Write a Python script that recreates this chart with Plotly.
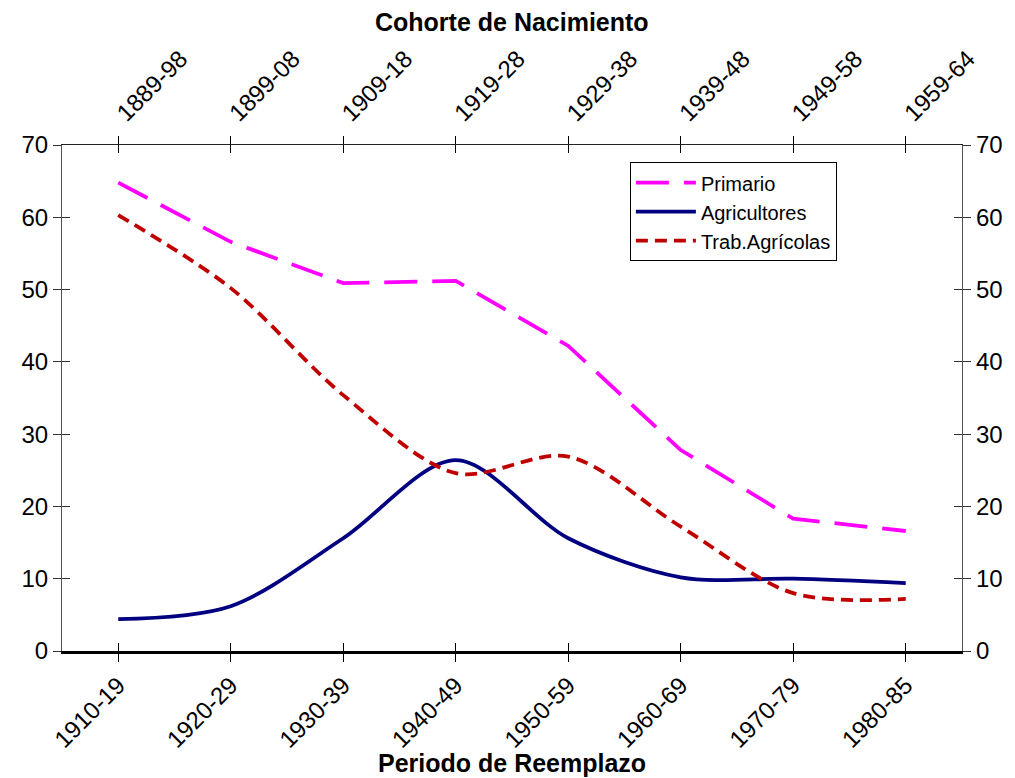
import plotly.graph_objects as go

periodos = ["1910-19", "1920-29", "1930-39", "1940-49", "1950-59", "1960-69", "1970-79", "1980-85"]
cohortes = ["1889-98", "1899-08", "1909-18", "1919-28", "1929-38", "1939-48", "1949-58", "1959-64"]
primario = [64.8, 56.6, 50.9, 51.2, 42.2, 27.8, 18.3, 16.6]
agricultores = [4.4, 6.2, 15.6, 26.4, 15.6, 10.2, 10.0, 9.4]
trab_agricolas = [60.3, 50.2, 35.4, 24.6, 26.9, 17.2, 8.0, 7.2]
y_ticks = [0, 10, 20, 30, 40, 50, 60, 70]

xi = list(range(len(periodos)))
FONT = "Liberation Sans, Arial, sans-serif"

fig = go.Figure()
fig.add_trace(go.Scatter(x=xi, y=primario, name="Primario", mode="lines",
                         line=dict(color="#FF00FF", width=3.8, dash="33px,15px")))
fig.add_trace(go.Scatter(x=xi, y=agricultores, name="Agricultores", mode="lines",
                         line=dict(color="#000080", width=3.8, shape="spline", smoothing=0.9)))
fig.add_trace(go.Scatter(x=xi, y=trab_agricolas, name="Trab.Agrícolas", mode="lines",
                         line=dict(color="#C00000", width=3.8, dash="12px,7px", shape="spline", smoothing=0.9)))
# invisible traces to register the auxiliary axes
for xa, ya in [("x2", "y2"), ("x3", "y3"), ("x4", "y4")]:
    fig.add_trace(go.Scatter(x=[xi[0]], y=[0], xaxis=xa, yaxis=ya, mode="markers",
                             marker=dict(opacity=0), showlegend=False, hoverinfo="skip"))

xr = [-0.5, len(periodos) - 0.5]
yr = [0, 70]
tickfont = dict(family=FONT, size=24, color="black")

common_x = dict(range=xr, tickmode="array", tickvals=xi, showgrid=False, zeroline=False,
                fixedrange=True, automargin=False, ticklen=8, tickcolor="black", tickwidth=1)
common_y = dict(range=yr, tickmode="array", tickvals=y_ticks, showgrid=False, zeroline=False,
                fixedrange=True, automargin=False, ticklen=8, tickcolor="#333", tickwidth=1)

# page has an 8px body margin, so the figure is shifted by 8px right/down
fig.update_layout(
    width=1007, height=770,
    paper_bgcolor="white", plot_bgcolor="white",
    margin=dict(l=54, r=53, t=137, b=127),
    font=dict(family=FONT, size=24, color="black"),
    xaxis=dict(**common_x, side="bottom", ticks="outside", ticktext=periodos, tickangle=-45,
               tickfont=tickfont, showline=True, linecolor="black", linewidth=2.5),
    xaxis2=dict(**common_x, overlaying="x", anchor="y", side="top", ticks="outside",
                ticktext=cohortes, tickangle=-45, tickfont=tickfont,
                showline=True, linecolor="#222", linewidth=1.2),
    xaxis3=dict(**common_x, overlaying="x", anchor="y", side="bottom", ticks="inside",
                showticklabels=False, showline=False),
    xaxis4=dict(**common_x, overlaying="x", anchor="y", side="top", ticks="inside",
                showticklabels=False, showline=False),
    yaxis=dict(**common_y, side="left", ticks="outside", tickfont=tickfont,
               showline=True, linecolor="#555", linewidth=1.2),
    yaxis2=dict(**common_y, overlaying="y", anchor="x", side="right", ticks="outside",
                tickfont=tickfont, showline=True, linecolor="#555", linewidth=1.2),
    yaxis3=dict(**common_y, overlaying="y", anchor="x", side="left", ticks="inside",
                showticklabels=False, showline=False),
    yaxis4=dict(**common_y, overlaying="y", anchor="x", side="right", ticks="inside",
                showticklabels=False, showline=False),
    legend=dict(x=0.631, y=0.966, xanchor="left", yanchor="top",
                bgcolor="white", bordercolor="black", borderwidth=1,
                font=dict(family=FONT, size=20, color="black"),
                tracegroupgap=0, itemwidth=60),
    showlegend=True,
    annotations=[
        dict(text="<b>Periodo de Reemplazo</b>", xref="paper", yref="paper", x=0.5, y=-0.221,
             showarrow=False, xanchor="center", yanchor="middle",
             font=dict(family=FONT, size=25, color="black")),
        dict(text="<b>Cohorte de Nacimiento</b>", xref="paper", yref="paper", x=0.5, y=1.243,
             showarrow=False, xanchor="center", yanchor="middle",
             font=dict(family=FONT, size=25, color="black")),
    ],
)

fig.write_html("out.html")
